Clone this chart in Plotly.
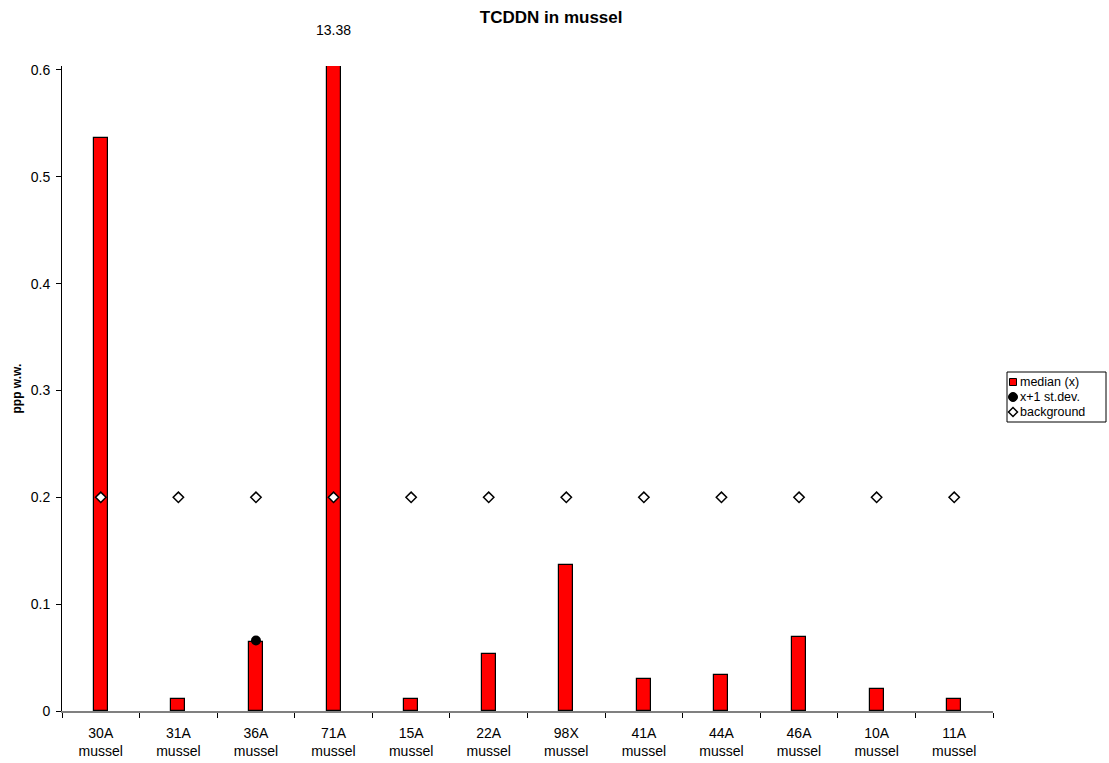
import plotly.graph_objects as go

stations = ["30A", "31A", "36A", "71A", "15A", "22A", "98X", "41A", "44A", "46A", "10A", "11A"]
labels = [s + "<br>mussel" for s in stations]
median = [0.536, 0.011, 0.065, 13.38, 0.011, 0.053, 0.137, 0.030, 0.034, 0.069, 0.021, 0.011]
sd_station = ["36A"]
sd_values = [0.066]
background = [0.2] * 12
legend_names = ["median (x)", "x+1 st.dev.", "background"]

font = "Liberation Sans, Arial, sans-serif"
W, H = 1109, 763
L, R, T, B = 62, 116, 66, 52


def px(x):
    return (x - L) / (W - L - R)


def py(y):
    return (H - B - y) / (H - T - B)


fig = go.Figure()
fig.add_trace(go.Bar(
    x=labels, y=median, name=legend_names[0], width=0.18,
    marker=dict(color="#ff0000", line=dict(color="black", width=1.2)),
))
fig.add_trace(go.Scatter(
    x=[s + "<br>mussel" for s in sd_station], y=sd_values, name=legend_names[1], mode="markers",
    marker=dict(symbol="circle", color="black", size=10),
))
fig.add_trace(go.Scatter(
    x=labels, y=background, name=legend_names[2], mode="markers",
    marker=dict(symbol="diamond", color="white", size=8, line=dict(color="black", width=1.5)),
))

fig.update_layout(
    width=W, height=H,
    paper_bgcolor="white", plot_bgcolor="white",
    margin=dict(l=L, r=R, t=T, b=B, autoexpand=False),
    font=dict(family=font, size=14, color="black"),
    title=dict(text="<b>TCDDN in mussel</b>", x=0.497, xanchor="center", y=0.977, yanchor="middle",
               font=dict(size=17)),
    showlegend=False,
    bargap=0,
)
fig.update_xaxes(
    type="category", range=[-0.5, 11.5], tickson="boundaries", ticks="outside", ticklen=5,
    tickcolor="black", ticklabelstandoff=8,
    showline=True, linecolor="#808080", linewidth=1.5, showgrid=False, zeroline=False,
    tickfont=dict(size=14),
)
fig.update_yaxes(
    range=[0, 0.6037], tickvals=[0, 0.1, 0.2, 0.3, 0.4, 0.5, 0.6],
    ticktext=["0", "0.1", "0.2", "0.3", "0.4", "0.5", "0.6"],
    ticks="outside", ticklen=5, tickcolor="black", ticklabelstandoff=3,
    showline=True, linecolor="black", linewidth=1, showgrid=False, zeroline=False,
    tickfont=dict(size=14),
)
fig.add_annotation(text="<b>ppp w.w.</b>", xref="paper", yref="paper", x=px(16), y=0.5,
                   xanchor="center", yanchor="middle",
                   textangle=-90, showarrow=False, font=dict(size=12))
fig.add_annotation(text="13.38", xref="x", yref="paper", x=labels[3], y=py(30),
                   yanchor="middle", showarrow=False, font=dict(size=14))

# legend box drawn by hand (compact, like the original)
box_l, box_r, box_t, box_b = 1007, 1106, 372, 422
fig.add_shape(type="rect", xref="paper", yref="paper", x0=px(box_l), x1=px(box_r),
              y0=py(box_b), y1=py(box_t), line=dict(color="black", width=1), fillcolor="white")
row_y = [382, 397, 412]
sx = 1013
# square
fig.add_shape(type="rect", xref="paper", yref="paper", x0=px(sx - 3.5), x1=px(sx + 3.5),
              y0=py(row_y[0] + 3.5), y1=py(row_y[0] - 3.5),
              line=dict(color="black", width=1), fillcolor="#ff0000")
# circle
fig.add_shape(type="circle", xref="paper", yref="paper", x0=px(sx - 4.5), x1=px(sx + 4.5),
              y0=py(row_y[1] + 4.5), y1=py(row_y[1] - 4.5),
              line=dict(color="black", width=1), fillcolor="black")
# diamond
d = 4.5
path = "M {} {} L {} {} L {} {} L {} {} Z".format(
    px(sx), py(row_y[2] - d), px(sx + d), py(row_y[2]), px(sx), py(row_y[2] + d), px(sx - d), py(row_y[2]))
fig.add_shape(type="path", xref="paper", yref="paper", path=path,
              line=dict(color="black", width=1.5), fillcolor="white")
for name, yy in zip(legend_names, row_y):
    fig.add_annotation(text=name, xref="paper", yref="paper", x=px(1019), y=py(yy),
                       xanchor="left", yanchor="middle", showarrow=False, font=dict(size=12.5),
                       borderpad=0)

fig.write_html("out.html", config={"displayModeBar": False},
               post_script="document.body.style.margin='0';")
